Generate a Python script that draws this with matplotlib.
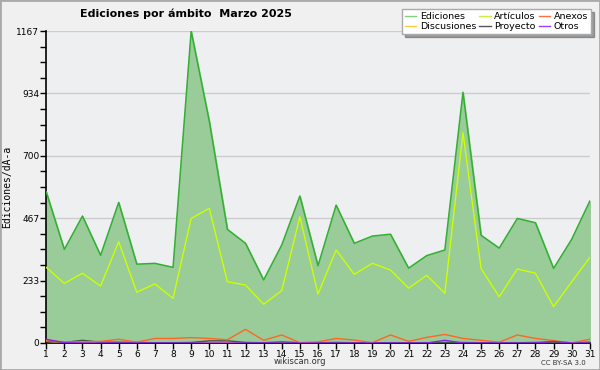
import matplotlib
matplotlib.use("Agg")
import matplotlib.pyplot as plt
import matplotlib.patches as mpatches
import numpy as np

days = list(range(1, 32))
ediciones = [566, 350, 475, 328, 526, 295, 298, 283, 1167, 830, 425, 373, 236, 367, 550, 289,
             516, 373, 400, 407, 280, 327, 348, 938, 403, 355, 466, 450, 279, 388, 531]
articulos = [283, 223, 261, 213, 379, 190, 221, 167, 466, 504, 229, 217, 145, 196, 472, 183,
             348, 257, 298, 273, 205, 253, 186, 787, 279, 173, 277, 261, 136, 229, 320]
anexos = [10, 4, 4, 6, 14, 3, 17, 17, 20, 17, 12, 51, 10, 30, 1, 4,
          17, 11, 1, 30, 6, 21, 32, 17, 10, 3, 30, 17, 9, 0, 14]
discusiones = [6, 2, 4, 2, 2, 1, 1, 1, 2, 2, 2, 1, 1, 1, 1, 1,
               1, 1, 1, 1, 1, 1, 1, 2, 1, 1, 1, 1, 1, 1, 2]
proyecto = [8, 2, 10, 3, 3, 2, 1, 1, 2, 8, 8, 2, 1, 4, 1, 1,
            2, 1, 1, 1, 1, 1, 2, 2, 1, 1, 1, 2, 3, 1, 3]
otros = [14, 1, 0, 0, 0, 0, 0, 0, 0, 0, 0, 0, 0, 0, 0, 0,
         0, 0, 0, 0, 0, 0, 10, 0, 0, 0, 0, 0, 6, 0, 0]

ymax = 1167
yticks = [0, 233, 467, 700, 934, 1167]

fig = plt.figure(figsize=(6, 3.7), dpi=100, facecolor="#f0f0f0")
fig.patches.append(mpatches.Rectangle((0, 0), 1, 1, transform=fig.transFigure,
                                      fill=False, edgecolor="#aaaaaa", linewidth=2))
ax = fig.add_axes([0.077, 0.073, 0.906, 0.843])
ax.set_facecolor("#eeeff1")

ax.fill_between(days, ediciones, 0, color="#99cc99", zorder=2)
ax.plot(days, ediciones, color="#33b033", lw=1.1, zorder=3)
ax.plot(days, articulos, color="#ccff00", lw=1.0, zorder=3)
ax.plot(days, discusiones, color="#ffcc33", lw=1.0, zorder=3)
ax.plot(days, proyecto, color="#445544", lw=1.0, zorder=3)
ax.plot(days, anexos, color="#ff6622", lw=1.0, zorder=4)
ax.plot(days, otros, color="#8822ee", lw=1.0, zorder=4)

ax.set_xlim(1, 31)
ax.set_ylim(0, ymax)
ax.set_xticks(days)
ax.set_yticks([ymax * k / 5 for k in range(6)])
ax.set_yticklabels([str(t) for t in yticks])
ax.set_yticks(np.arange(0, ymax + 1, ymax / 20), minor=True)
ax.tick_params(axis="both", labelsize=6.5, length=4, width=1, pad=1, colors="black")
ax.tick_params(axis="y", which="minor", length=4, width=1)
ax.grid(axis="y", color="#cccccc", lw=1, zorder=1)
ax.set_axisbelow(True)
for s in ["top", "right"]:
    ax.spines[s].set_visible(False)
ax.spines["left"].set_linewidth(1.2)
ax.spines["bottom"].set_linewidth(1.2)

ax.set_ylabel("Ediciones/dÃ-a", fontsize=7, family="DejaVu Sans Mono")
ax.yaxis.set_label_coords(-0.062, 0.5)
fig.text(0.31, 0.962, "Ediciones por ámbito  Marzo 2025", fontsize=8, fontweight="bold",
         ha="center", va="center")
fig.text(0.5, 0.022, "wikiscan.org", fontsize=6, ha="center", va="center", color="#333333")
fig.text(0.977, 0.02, "CC BY-SA 3.0", fontsize=5, ha="right", va="center", color="#333333")

handles = [
    plt.Line2D([], [], color="#80d080", lw=1),
    plt.Line2D([], [], color="#ffcc44", lw=1),
    plt.Line2D([], [], color="#ccee44", lw=1),
    plt.Line2D([], [], color="#555555", lw=1),
    plt.Line2D([], [], color="#ff7040", lw=1),
    plt.Line2D([], [], color="#9040ff", lw=1),
]
labels = ["Ediciones", "Discusiones", "Artículos", "Proyecto", "Anexos", "Otros"]
leg = fig.legend(handles, labels, ncol=3, loc="upper right", bbox_to_anchor=(0.985, 0.975),
                 fontsize=6.8, frameon=True, fancybox=False, shadow=True, handlelength=1.2,
                 handletextpad=0.4, columnspacing=0.3, labelspacing=0.1, borderpad=0.3,
                 borderaxespad=0)
leg.get_frame().set_edgecolor("#aaaaaa")
leg.get_frame().set_facecolor("white")

fig.savefig("out.png", dpi=100, facecolor=fig.get_facecolor())
